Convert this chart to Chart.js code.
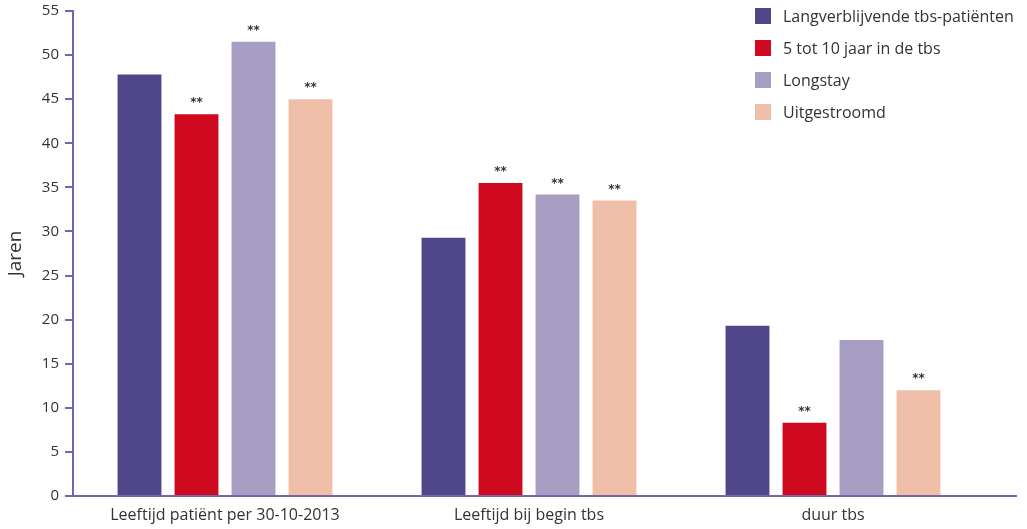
<!DOCTYPE html>
<html>
<head>
<meta charset="utf-8">
<script src="https://cdn.jsdelivr.net/npm/chart.js@4/dist/chart.umd.min.js"></script>
<style>
  html, body { margin: 0; padding: 0; background: #fff; }
  #wrap { position: relative; width: 1027px; height: 529px; }
  #legend { position: absolute; left: 755px; top: 8px; font-family: "Open Sans", sans-serif; font-size: 16px; color: #333; }
  #legend div { height: 32px; display: flex; align-items: center; margin-top: -8px; margin-bottom: 8px; }
  #legend span.box { display: inline-block; width: 16px; height: 16px; margin-right: 12px; }
</style>
</head>
<body>
<div id="wrap">
  <canvas id="myChart" width="1027" height="529"></canvas>
  <div id="legend"></div>
</div>
<script>
var categories = ['Leeftijd patiënt per 30-10-2013', 'Leeftijd bij begin tbs', 'duur tbs'];
var seriesNames = ['Langverblijvende tbs-patiënten', '5 tot 10 jaar in de tbs', 'Longstay', 'Uitgestroomd'];
var langverblijvend = [47.8, 29.3, 19.3];
var vijfTotTien = [43.3, 35.5, 8.3];
var longstay = [51.5, 34.2, 17.7];
var uitgestroomd = [45.0, 33.5, 12.0];
// ** markers per series, per category
var significant = [
    [false, false, false],
    [true, true, true],
    [true, true, false],
    [true, true, true]
];
var barColors = ['#4f4789', '#cf0a20', '#a89ec4', '#efbfa9'];
var axisColor = '#7366ad';

var values = [langverblijvend, vijfTotTien, longstay, uitgestroomd];

// legend
var legendHtml = '';
seriesNames.forEach(function (name, i) {
    legendHtml += '<div><span class="box" style="background:' + barColors[i] + '"></span>' + name + '</div>';
});
document.getElementById('legend').innerHTML = legendHtml;

var starsPlugin = {
    id: 'stars',
    afterDatasetsDraw: function (chart) {
        var ctx = chart.ctx;
        ctx.save();
        ctx.fillStyle = '#333';
        ctx.font = 'bold 12px "DejaVu Sans", sans-serif';
        ctx.textAlign = 'center';
        ctx.textBaseline = 'bottom';
        chart.data.datasets.forEach(function (ds, i) {
            var meta = chart.getDatasetMeta(i);
            meta.data.forEach(function (bar, j) {
                if (significant[i][j]) {
                    ctx.fillText('**', bar.x, bar.y - 5);
                }
            });
        });
        // x axis runs on past the last group
        var area = chart.chartArea;
        ctx.strokeStyle = axisColor;
        ctx.lineWidth = 2;
        ctx.beginPath();
        ctx.moveTo(area.right - 2, area.bottom);
        ctx.lineTo(1017, area.bottom);
        ctx.stroke();
        ctx.restore();
    }
};

new Chart('myChart', {
    type: 'bar',
    data: {
        labels: categories,
        datasets: values.map(function (v, i) {
            return {
                label: seriesNames[i],
                data: v,
                backgroundColor: barColors[i],
                barPercentage: 0.77,
                categoryPercentage: 0.75
            };
        })
    },
    options: {
        responsive: false,
        animation: false,
        layout: { padding: { top: 11, right: 42, left: 0, bottom: 0 } },
        plugins: {
            legend: { display: false },
            tooltip: { enabled: false }
        },
        scales: {
            x: {
                grid: { display: true, drawOnChartArea: false, drawTicks: false },
                border: { color: axisColor, width: 2 },
                ticks: {
                    color: '#333',
                    padding: 10,
                    font: { family: 'Open Sans', size: 16 }
                },
                afterFit: function (scale) { scale.height = 33; }
            },
            y: {
                min: 0,
                max: 55,
                ticks: {
                    stepSize: 5,
                    color: '#333',
                    padding: 6,
                    font: { family: 'Open Sans', size: 15 }
                },
                grid: { drawOnChartArea: false, drawTicks: true, tickLength: 8, color: axisColor, lineWidth: 2 },
                border: { color: axisColor, width: 2 },
                title: {
                    display: true,
                    text: 'Jaren',
                    color: '#333',
                    font: { family: 'Open Sans', size: 19 }
                },
                afterFit: function (scale) {
                    scale.width = 73;
                    scale.paddingTop = 0;
                    scale.paddingBottom = 0;
                }
            }
        }
    },
    plugins: [starsPlugin]
});
</script>
</body>
</html>
